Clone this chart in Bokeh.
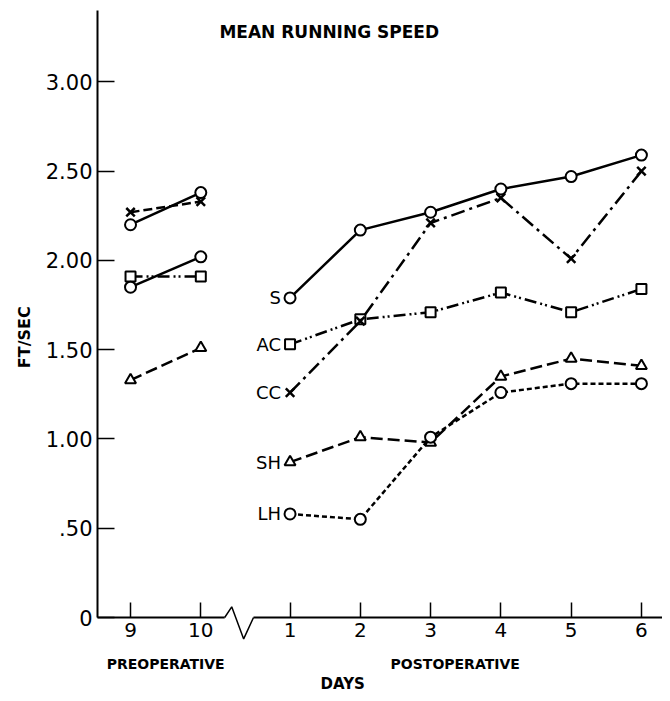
from bokeh.plotting import figure
from bokeh.models import FixedTicker, Label, Range1d
from bokeh.core.properties import value
from bokeh.embed import file_html
from bokeh.resources import INLINE

# ---------------- data ----------------
pre_days = [9, 10]
post_days = [1, 2, 3, 4, 5, 6]
y_ticks = [0, 0.5, 1.0, 1.5, 2.0, 2.5, 3.0]
y_tick_labels = ["0", ".50", "1.00", "1.50", "2.00", "2.50", "3.00"]

groups = ["S", "AC", "CC", "SH", "LH"]

s_pre = [2.20, 2.38]
ac_pre = [1.91, 1.91]
cc_pre = [2.27, 2.33]
sh_pre = [1.33, 1.51]
lh_pre = [1.85, 2.02]

s_post = [1.79, 2.17, 2.27, 2.40, 2.47, 2.59]
ac_post = [1.53, 1.67, 1.71, 1.82, 1.71, 1.84]
cc_post = [1.26, 1.66, 2.21, 2.35, 2.01, 2.50]
sh_post = [0.87, 1.01, 0.98, 1.35, 1.45, 1.41]
lh_post = [0.58, 0.55, 1.01, 1.26, 1.31, 1.31]

# ---------------- layout helpers ----------------
POST_OFFSET = 1.27
pre_x = [i for i in range(len(pre_days))]
post_x = [d + POST_OFFSET for d in post_days]
x_tick_pos = pre_x + post_x
x_tick_labels = [str(d) for d in pre_days] + [str(d) for d in post_days]

FONT = "DejaVu Sans"
X0, X1 = -0.47, 7.57

p = figure(width=662, height=693, output_backend="svg", toolbar_location=None,
           x_range=Range1d(X0, X1), y_range=Range1d(0, 3.40),
           min_border_left=97, min_border_right=0, min_border_top=10,
           min_border_bottom=76)
p.outline_line_color = None
p.xgrid.visible = False
p.ygrid.visible = False
p.background_fill_color = "white"
p.border_fill_color = "white"

# y axis
ya = p.yaxis[0]
ya.ticker = FixedTicker(ticks=y_ticks)
ya.major_label_overrides = {t: l for t, l in zip(y_ticks, y_tick_labels)}
ya.major_tick_in = 17
ya.major_tick_out = 0
ya.minor_tick_in = 0
ya.minor_tick_out = 0
ya.axis_line_width = 2
ya.major_tick_line_width = 1.5
ya.major_label_text_font = FONT
ya.major_label_text_font_size = "21px"
ya.major_label_standoff = 5
ya.major_label_text_color = "black"

# x axis
xa = p.xaxis[0]
xa.ticker = FixedTicker(ticks=x_tick_pos)
xa.major_label_overrides = {t: l for t, l in zip(x_tick_pos, x_tick_labels)}
xa.major_tick_in = 15
xa.major_tick_out = 0
xa.minor_tick_in = 0
xa.minor_tick_out = 0
xa.axis_line_color = None
xa.major_tick_line_width = 1.5
xa.major_label_text_font = FONT
xa.major_label_text_font_size = "20px"
xa.major_label_standoff = 5
xa.major_label_text_color = "black"

# baseline with break symbol
p.line([X0, 1.34], [0, 0], line_color="black", line_width=2, level="overlay")
p.line([1.34, 1.44, 1.61, 1.75], [0, 0.06, -0.12, 0], line_color="black",
       line_width=1.5, level="overlay")
p.line([1.75, X1], [0, 0], line_color="black", line_width=2, level="overlay")

# ---------------- series ----------------
styles = {
    "S": dict(marker="circle", size=11, dash="solid"),
    "AC": dict(marker="square", size=10, dash="12 4 2 3 2 4"),
    "CC": dict(marker="x", size=12, dash="14 5 3 5"),
    "SH": dict(marker="triangle", size=11, dash="12 5"),
    "LH": dict(marker="circle", size=11, dash="5 3"),
}
pre_dash = {"S": "solid", "AC": "12 4 2 3 2 4", "CC": "9 4", "SH": "12 5", "LH": "solid"}
pre_vals = {"S": s_pre, "AC": ac_pre, "CC": cc_pre, "SH": sh_pre, "LH": lh_pre}
post_vals = {"S": s_post, "AC": ac_post, "CC": cc_post, "SH": sh_post, "LH": lh_post}

for g in groups:
    st = styles[g]
    p.line(pre_x, pre_vals[g], line_color="black", line_width=2.5,
           line_dash=pre_dash[g])
    p.line(post_x, post_vals[g], line_color="black", line_width=2.5,
           line_dash=st["dash"])
    for xs, ys in ((pre_x, pre_vals[g]), (post_x, post_vals[g])):
        p.scatter(xs, ys, marker=st["marker"], size=st["size"],
                  line_color="black", fill_color="white",
                  line_width=2.5 if st["marker"] == "x" else 2)
    p.add_layout(Label(x=post_x[0], y=post_vals[g][0], text=g, x_offset=-9,
                       text_align="right", text_baseline="middle",
                       text_font=FONT, text_font_size="18px", text_color="black"))

# ---------------- texts ----------------
p.add_layout(Label(x=2.87, y=3.28, text="MEAN  RUNNING SPEED", text_align="center",
                   text_baseline="middle", text_font=FONT, text_font_size="17px",
                   text_font_style="bold", text_color="black"))


def outside_text(x, y, t, size, angle=0.0):
    p.text(x=[x], y=[y], text=[t], angle=angle, text_align="center",
           text_baseline="middle", text_font=value(FONT), text_font_size=size,
           text_font_style="bold", text_color="black", level="overlay")


outside_text(0.50, -0.26, "PREOPERATIVE", "14px")
outside_text(4.62, -0.26, "POSTOPERATIVE", "14px")
outside_text(3.02, -0.375, "DAYS", "15px")
outside_text(-1.51, 1.57, "FT/SEC", "16px", angle=1.5708)

open("out.html", "w").write(file_html(p, INLINE))
